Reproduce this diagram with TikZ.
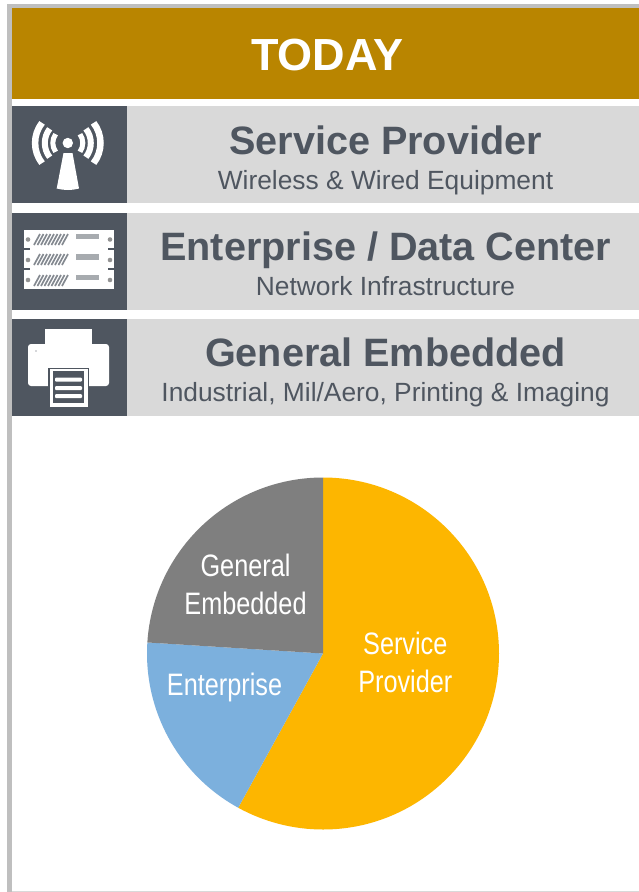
\documentclass[tikz,border=0pt]{standalone}
\usepackage{fontspec}
\setmainfont{Liberation Sans}
\usetikzlibrary{calc}
\definecolor{gold}{HTML}{B98500}
\definecolor{slate}{HTML}{4F5660}
\definecolor{rowgray}{HTML}{D9D9D9}
\definecolor{edgegray}{HTML}{BFBFBF}
\definecolor{pieyellow}{HTML}{FDB600}
\definecolor{pieblue}{HTML}{7CB0DD}
\definecolor{piegray}{HTML}{7F7F7F}
\tikzset{
  titletext/.style={font=\fontsize{45}{50}\selectfont\bfseries,text=white,inner sep=0pt,anchor=base},
  headtext/.style={font=\fontsize{39.6}{44}\selectfont\bfseries,text=slate,inner sep=0pt,anchor=base},
  subtext/.style={font=\fontsize{26.35}{30}\selectfont,text=slate,inner sep=0pt,anchor=base},
  pietext/.style={font=\fontsize{31}{38}\selectfont,text=white,inner sep=0pt,anchor=center,align=center,xscale=.815},
  wave/.style={draw=white,line cap=butt,fill=none},
}
\newcommand{\rowbar}[1]{%
  \fill[slate] (12,#1) rectangle (127,#1+97);
  \fill[rowgray] (127,#1) rectangle (639,#1+97);}
\newcommand{\srvrow}[3]{% hatch top, grid top, screw centre
  \foreach \hx in {34,37.5,...,62}{
    \draw[slate!70,line width=1.7] (\hx,#1+11) -- (\hx+6,#1);
  }
  \fill[slate!50] (76,#2) rectangle (98.5,#2+5.5);
  \fill[gray!85] (28,#3) circle (2.3);
  \fill[gray!85] (110,#3) circle (2.3);}
\begin{document}
\begin{tikzpicture}[x=1pt,y=-1pt]
\useasboundingbox (0,0) rectangle (639,892);
\fill[white] (0,0) rectangle (639,892);
% frame
\fill[edgegray] (7,4) rectangle (639,8);
\fill[edgegray] (7,4) rectangle (11.5,892);
\fill[rowgray] (11.5,891) rectangle (639,892);
% header
\fill[gold] (12,8) rectangle (639,99);
\node[titletext] (title) at (327.5,70) {TODAY};
% rows
\rowbar{106}\rowbar{213}\rowbar{319}
\node[headtext] (h1) at (385.5,154) {Service Provider};
\node[subtext] (s1) at (385.5,189) {Wireless \& Wired Equipment};
\node[headtext] (h2) at (385.8,260) {Enterprise / Data Center};
\node[subtext] (s2) at (385.5,295) {Network Infrastructure};
\node[headtext] (h3) at (385.5,366) {General Embedded};
\node[subtext] (s3) at (385.5,401) {Industrial, Mil/Aero, Printing \& Imaging};
% antenna icon
\coordinate (ant) at (67.8,143);
\fill[white] (ant) circle (5.2);
\fill[white] (63.5,153) -- (72.5,153) -- (79,188.5) .. controls (72,190.5) and (64,190.5) .. (56.7,188.5) -- cycle;
\foreach \r/\a/\w in {15/36/5,23/38/6,32.7/38/6.5}{
  \draw[wave,line width=\w] ($(ant)+(180-\a:\r)$) arc[start angle=180-\a,end angle=180+\a,radius=\r];
  \draw[wave,line width=\w] ($(ant)+(\a:\r)$) arc[start angle=\a,end angle=-\a,radius=\r];
}
% server icon
\fill[white] (24,230) rectangle (114,289);
\srvrow{234}{233.5}{239.5}\srvrow{254}{254}{260}\srvrow{275}{274.5}{280}
\foreach \yy in {249,269}{
  \fill[slate] (24,\yy-.9) rectangle (30,\yy+.9);
  \fill[slate] (108,\yy-.9) rectangle (114,\yy+.9);
}
% printer icon
\fill[white] (45,329) rectangle (92,350);
\fill[white,rounded corners=3] (28,344) rectangle (109,386);
\fill[slate] (36,351) circle (.7);
\fill[slate] (48,367.5) rectangle (89,408);
\fill[white] (50,368.5) rectangle (88,407);
\fill[slate] (53,371) rectangle (84,403);
\foreach \yy in {379.5,388,396}{
  \fill[white,rounded corners=1] (55,\yy-2) rectangle (82,\yy+2);
}
% pie (angles negated because the y axis points down)
\coordinate (c) at (323,653.5);
\fill[pieyellow] (c) -- ($(c)+(-90:176)$) arc[start angle=-90,end angle=118.8,radius=176] -- cycle;
\fill[pieblue] (c) -- ($(c)+(-241.2:176)$) arc[start angle=-241.2,end angle=-176.4,radius=176] -- cycle;
\fill[piegray] (c) -- ($(c)+(-176.4:176)$) arc[start angle=-176.4,end angle=-90,radius=176] -- cycle;
\node[pietext] (p1) at (405.3,662.5) {Service\\Provider};
\node[pietext] (p2) at (224.5,687) {Enterprise};
\node[pietext] (p3) at (245.5,584) {General\\Embedded};
\end{tikzpicture}
\end{document}
